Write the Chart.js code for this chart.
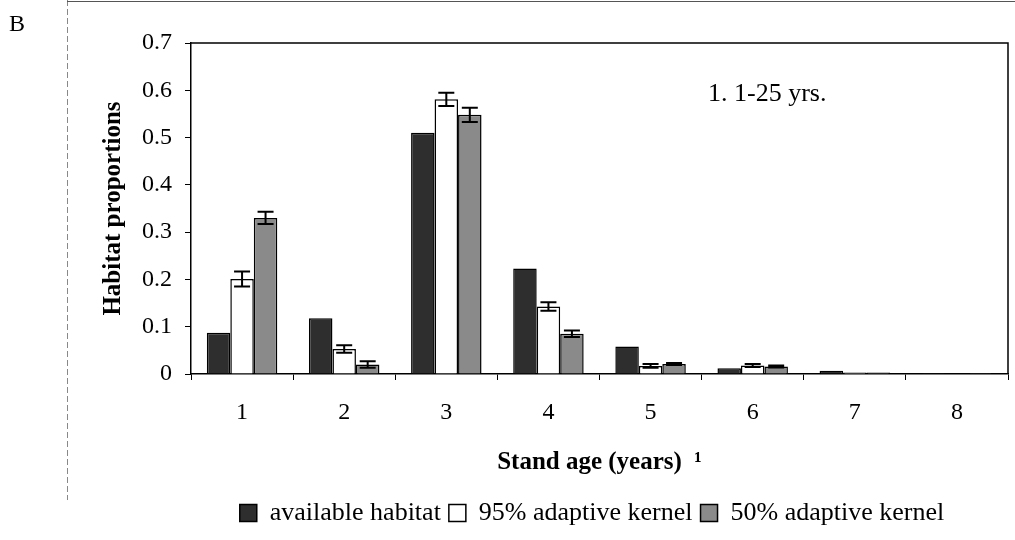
<!DOCTYPE html>
<html>
<head>
<meta charset="utf-8">
<script src="https://cdn.jsdelivr.net/npm/chart.js@4.4.1/dist/chart.umd.min.js"></script>
<style>
  html, body { margin:0; padding:0; background:#fff; }
  #wrap { width:1015px; height:540px; }
</style>
</head>
<body>
<div id="wrap"><canvas id="c"></canvas></div>
<script>
const standAges = ["1","2","3","4","5","6","7","8"];
const available = [0.087, 0.118, 0.51, 0.223, 0.058, 0.012, 0.007, 0.002];
const kernel95  = [0.201, 0.053, 0.581, 0.143, 0.017, 0.018, 0.003, 0.001];
const kernel50  = [0.330, 0.020, 0.548, 0.085, 0.021, 0.016, 0.003, 0.002];
const err95     = [0.016, 0.008, 0.014, 0.009, 0.004, 0.003, 0, 0];
const err50     = [0.013, 0.007, 0.015, 0.007, 0.002, 0.002, 0, 0];

const serif = "'Liberation Serif', 'Times New Roman', serif";

// error bars drawn on top of the bars, from the y scale
const errorBars = {
  id: "errorBars",
  afterDatasetsDraw(chart){
    const ctx = chart.ctx;
    const y = chart.scales.y;
    chart.data.datasets.forEach((ds, di) => {
      if(!ds.errors) return;
      const meta = chart.getDatasetMeta(di);
      meta.data.forEach((bar, i) => {
        const e = ds.errors[i];
        if(!e) return;
        const v = ds.data[i];
        const top = y.getPixelForValue(v + e);
        const bot = y.getPixelForValue(v - e);
        const cap = 8;
        ctx.save();
        ctx.strokeStyle = "#000";
        ctx.lineWidth = 2;
        ctx.beginPath();
        ctx.moveTo(bar.x, top); ctx.lineTo(bar.x, bot);
        ctx.moveTo(bar.x - cap, top); ctx.lineTo(bar.x + cap, top);
        ctx.moveTo(bar.x - cap, bot); ctx.lineTo(bar.x + cap, bot);
        ctx.stroke();
        ctx.restore();
      });
    });
  }
};

// figure frame, panel letter, note, and the box round the plot
const decor = {
  id: "decor",
  afterLayout(chart){
    // legend sits right of the canvas centre in the original
    if(chart.legend){ chart.legend.left += 40; chart.legend.right += 40; }
  },
  beforeDraw(chart){
    const ctx = chart.ctx;
    ctx.save();
    ctx.fillStyle = "#fff";
    ctx.fillRect(0, 0, chart.width, chart.height);
    ctx.strokeStyle = "#888";
    ctx.lineWidth = 1;
    ctx.setLineDash([6, 3]);
    ctx.beginPath();
    ctx.moveTo(67.5, 0); ctx.lineTo(67.5, 500);
    ctx.stroke();
    ctx.setLineDash([]);
    ctx.strokeStyle = "#555";
    ctx.beginPath();
    ctx.moveTo(67, 1.5); ctx.lineTo(chart.width, 1.5);
    ctx.stroke();
    ctx.fillStyle = "#000";
    ctx.font = "24px " + serif;
    ctx.textBaseline = "middle";
    ctx.fillText("B", 9, 25);
    ctx.restore();
  },
  afterDraw(chart){
    const ctx = chart.ctx;
    const a = chart.chartArea;
    ctx.save();
    ctx.strokeStyle = "#000";
    ctx.lineWidth = 1.5;
    ctx.beginPath();
    ctx.moveTo(a.left, a.top); ctx.lineTo(a.right, a.top); ctx.lineTo(a.right, a.bottom);
    ctx.stroke();
    ctx.fillStyle = "#000";
    ctx.font = "26px " + serif;
    ctx.textBaseline = "middle";
    ctx.fillText("1. 1-25 yrs.", 708, 94);
    ctx.restore();
  }
};

const bar = (label, data, fill, errors) => ({
  label, data, errors,
  backgroundColor: fill,
  borderColor: "#000",
  borderWidth: 1.5,
  categoryPercentage: 0.69,
  barPercentage: 1.0
});

new Chart(document.getElementById("c"), {
  type: "bar",
  data: {
    labels: standAges,
    datasets: [
      bar("available habitat", available, "#2e2e2e", null),
      bar("95% adaptive kernel", kernel95, "#ffffff", err95),
      bar("50% adaptive kernel", kernel50, "#8a8a8a", err50)
    ]
  },
  options: {
    responsive: true,
    maintainAspectRatio: false,
    animation: false,
    layout: { padding: { left: 96, right: 7, top: 43, bottom: 4 } },
    plugins: {
      legend: {
        position: "bottom",
        labels: {
          color: "#000",
          font: { family: serif, size: 26 },
          boxWidth: 17, boxHeight: 17,
          padding: 8
        }
      },
      tooltip: { enabled: false }
    },
    scales: {
      x: {
        afterFit: (s) => { s.height = 118; },
        grid: { drawOnChartArea: false, tickLength: 6, tickColor: "#000", tickWidth: 1 },
        border: { color: "#000", width: 1.5 },
        ticks: { color: "#000", font: { family: serif, size: 24 }, padding: 18 },
        title: {
          display: true,
          text: "Stand age (years)  \u00b9",
          color: "#000",
          font: { family: serif, size: 25, weight: "bold" },
          padding: { top: 0, bottom: 14 }
        }
      },
      y: {
        min: 0, max: 0.7,
        afterFit: (s) => { s.width = 95; },
        grid: { drawOnChartArea: false, tickLength: 6, tickColor: "#000", tickWidth: 1 },
        border: { color: "#000", width: 1.5 },
        ticks: {
          stepSize: 0.1,
          color: "#000",
          font: { family: serif, size: 24 },
          padding: 13,
          callback: (v) => v === 0 ? "0" : v.toFixed(1)
        },
        title: {
          display: true,
          text: "Habitat proportions",
          color: "#000",
          font: { family: serif, size: 25, weight: "bold" },
          padding: { top: 3, bottom: 4 }
        }
      }
    }
  },
  plugins: [errorBars, decor]
});
</script>
</body>
</html>
